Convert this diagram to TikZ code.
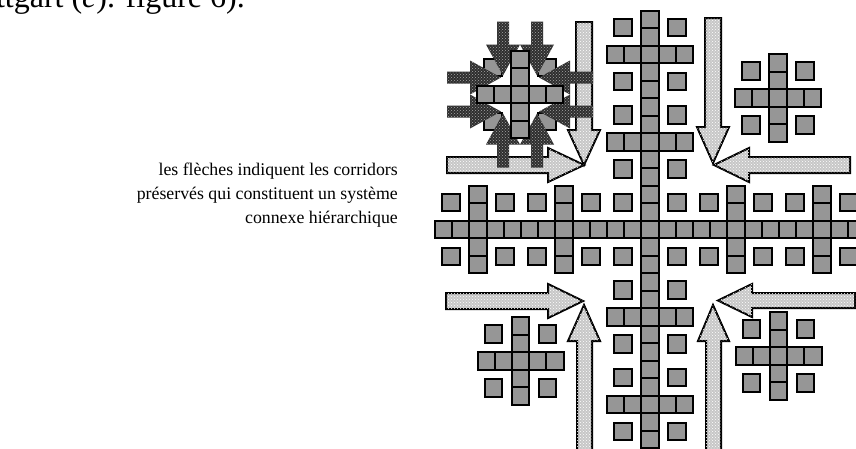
\documentclass[tikz,border=0pt]{standalone}
\usepackage{fontspec}
\setmainfont{Liberation Serif}
\usetikzlibrary{patterns}
\definecolor{cellgray}{RGB}{150,150,150}
\tikzset{
  cell/.style={draw=black, line width=2pt, fill=cellgray},
  lightarrow/.style={draw=black, line width=2pt, fill=black!22,
    postaction={pattern=crosshatch dots, pattern color=white}},
  darkarrow/.style={fill=black!82, postaction={pattern=crosshatch dots, pattern color=black!35}},
  captxt/.style={anchor=base east, inner sep=0pt, font=\fontsize{17.8}{24}\selectfont},
}
\newcommand{\cellat}[2]{\draw[cell] ({(#1)-8.6},{(#2)-8.75}) rectangle ++(17.2,17.5);}
\newcommand{\plusat}[2]{%
  \foreach \k in {-2,...,2} {\cellat{#1+17.2*(\k)}{#2}}%
  \foreach \k in {-2,...,2} {\cellat{#1}{#2+17.5*(\k)}}}
\newcommand{\diagat}[2]{%
  \foreach \sx in {-1,1} {\foreach \sy in {-1,1} {\cellat{#1+27*(\sx)}{#2+27*(\sy)}}}}
\newcommand{\darkpair}[1]{%
  \begin{scope}[shift={(520,94.5)}, rotate=#1]
    \foreach \o in {-17,17} {
      \fill[darkarrow] (-73,\o-6) -- (-50,\o-6) -- (-50,\o-17) -- (-19,\o) --
        (-50,\o+17) -- (-50,\o+6) -- (-73,\o+6) -- cycle;}
  \end{scope}}
\begin{document}
\begin{tikzpicture}[x=1pt,y=-1pt]
\useasboundingbox (0,0) rectangle (856,448);
\clip (0,0) rectangle (856,448);

% texts
\node[anchor=base east, inner sep=0pt, font=\fontsize{32}{38}\selectfont] (title) at (245,7.5) {ttgart (\textit{c}). figure 6).};
\node[captxt] (cap1) at (398,175) {les flèches indiquent les corridors};
\node[captxt] (cap2) at (398,199) {préservés qui constituent un système};
\node[captxt] (cap3) at (398,223) {connexe hiérarchique};

% light corridor arrows
\draw[lightarrow] (576,22) -- (592,22) -- (592,130) -- (600,130) -- (584,165) -- (568,130) -- (576,130) -- cycle;
\draw[lightarrow] (447,157) -- (548,157) -- (548,148) -- (584,165) -- (548,182) -- (548,173) -- (447,173) -- cycle;
\draw[lightarrow] (705,18) -- (721,18) -- (721,127) -- (729,127) -- (713,163) -- (697,127) -- (705,127) -- cycle;
\draw[lightarrow] (850,157) -- (749,157) -- (749,148) -- (714,165) -- (749,182) -- (749,173) -- (850,173) -- cycle;
\draw[lightarrow] (446,293) -- (548,293) -- (548,284) -- (583,301) -- (548,318) -- (548,309) -- (446,309) -- cycle;
\draw[lightarrow] (577,460) -- (577,341) -- (568,341) -- (584,305) -- (600,341) -- (592,341) -- (592,460) -- cycle;
\draw[lightarrow] (855,293) -- (752,293) -- (752,284) -- (718,300.5) -- (752,317) -- (752,308) -- (855,308) -- cycle;
\draw[lightarrow] (706,460) -- (706,341) -- (698,341) -- (713,305) -- (729,341) -- (721,341) -- (721,460) -- cycle;

% main column and band
\foreach \i in {-12,...,12} {\cellat{650}{229.5+17.5*(\i)}}
\foreach \i in {-12,...,12} {\cellat{650+17.2*(\i)}{229.5}}
% arms and squares on the column
\foreach \j in {-10,-5,5,10} {\plusat{650}{229.5+17.5*(\j)} \diagat{650}{229.5+17.5*(\j)}}
% arms and squares on the band
\foreach \j in {-10,-5,5,10} {\plusat{650+17.2*(\j)}{229.5} \diagat{650+17.2*(\j)}{229.5}}
\diagat{650}{229.5}
\foreach \i in {-12,...,12} {\cellat{650}{229.5+17.5*(\i)}}

% quadrant crosses
\plusat{778}{98} \diagat{778}{98}
\plusat{520.5}{361} \diagat{520.5}{361}
\plusat{778.5}{356} \diagat{778.5}{356}

% top-left cross with converging dark arrows
\diagat{520}{94.5}
\darkpair{0}
\darkpair{90}
\darkpair{180}
\darkpair{270}
\plusat{520}{94.5}
\end{tikzpicture}
\end{document}
